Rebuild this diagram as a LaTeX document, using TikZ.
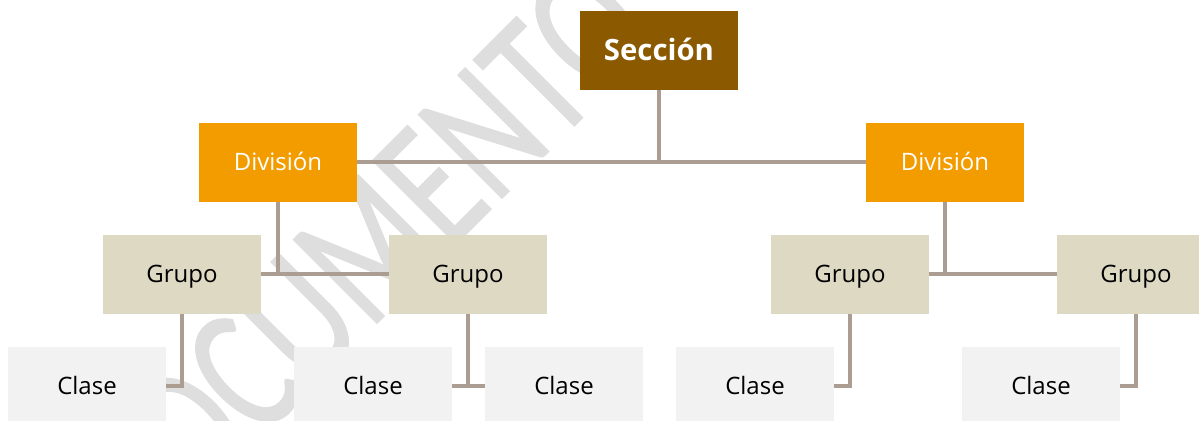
\documentclass[tikz,border=0pt]{standalone}
\usepackage{xcolor}
\usepackage{fontspec}
\setmainfont{Open Sans}
\newfontfamily\markfont[FakeBold=0.8]{Carlito}
\usepackage{tikz}
\usetikzlibrary{positioning,calc}

\definecolor{seccol}{HTML}{8B5A00}
\definecolor{divcol}{HTML}{F29C00}
\definecolor{grpcol}{HTML}{DDD9C3}
\definecolor{clacol}{HTML}{F2F2F2}
\definecolor{linkcol}{HTML}{AB9D92}
\definecolor{markcol}{HTML}{DEDEDE}

\begin{document}
\begin{tikzpicture}[x=0.75pt,y=-0.75pt,
	box/.style={rectangle,minimum width=118.5pt,minimum height=59.25pt,inner sep=0pt,
		text height=12.85pt,text depth=0pt,font=\fontsize{18}{20}\selectfont},
	secbox/.style={box,fill=seccol,text=white,text height=15.7pt,font=\fontsize{22}{24}\selectfont\bfseries},
	divbox/.style={box,fill=divcol,text=white},
	grpbox/.style={box,fill=grpcol,text=black},
	clabox/.style={box,fill=clacol,text=black},
	link/.style={draw=linkcol,line width=2.4pt}]

\useasboundingbox (0,0) rectangle (1199,421);
\fill[white] (0,0) rectangle (1199,421);

% watermark
\node[rotate=45,xscale=0.72,text=markcol,inner sep=0pt,text height=87pt,text depth=0pt,
	font=\markfont\fontsize{138}{138}\selectfont,name=mark] at (359,259) {DOCUMENTO};

\node[secbox] (sec) at (659,50.5) {Sección};
\node[divbox] (divL) at (278,162) {División};
\node[divbox] (divR) at (945,162) {División};
\node[grpbox] (grpA) at (182,274) {Grupo};
\node[grpbox] (grpB) at (468,274) {Grupo};
\node[grpbox] (grpC) at (850,274) {Grupo};
\node[grpbox] (grpD) at (1136,274) {Grupo};
\node[clabox] (claA) at (87,386) {Clase};
\node[clabox] (claB) at (373,386) {Clase};
\node[clabox] (claC) at (564,386) {Clase};
\node[clabox] (claD) at (755,386) {Clase};
\node[clabox] (claE) at (1041,386) {Clase};

\draw[link] (sec.south) -- (sec.south |- divL.east);
\draw[link] (divL.east) -- (divR.west);
\draw[link] (divL.south) -- (divL.south |- grpA.east);
\draw[link] (grpA.east) -- (grpB.west);
\draw[link] (divR.south) -- (divR.south |- grpC.east);
\draw[link] (grpC.east) -- (grpD.west);
\draw[link] (grpA.south) |- (claA.east);
\draw[link] (grpB.south) -- (grpB.south |- claB.east);
\draw[link] (claB.east) -- (claC.west);
\draw[link] (grpC.south) |- (claD.east);
\draw[link] (grpD.south) |- (claE.east);

\end{tikzpicture}
\end{document}
